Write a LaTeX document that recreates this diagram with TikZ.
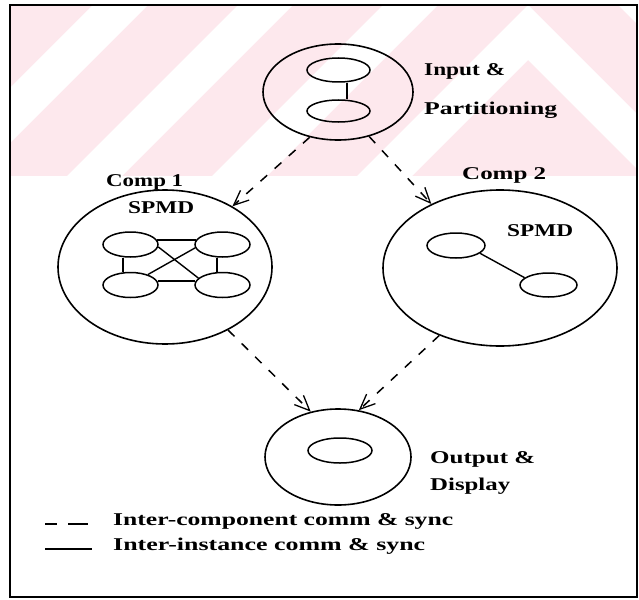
\documentclass[tikz,border=0pt]{standalone}
\usepackage{fontspec}
\usepackage{graphicx}
\setmainfont{Liberation Serif}
\usetikzlibrary{shapes.geometric,arrows.meta}
\definecolor{wmpink}{RGB}{253,232,237}
% stretch a label horizontally to a given width (in pt), keeping its height
\newcommand{\wtxt}[2]{\resizebox{#1pt}{\height}{#2}}

\begin{document}
\begin{tikzpicture}[x=1pt,y=-1pt,
  frame/.style={line width=1.6pt},
  blob/.style={draw, ellipse, line width=1.6pt, inner sep=0pt},
  proc/.style={draw, ellipse, line width=1.5pt, inner sep=0pt},
  lbl/.style={anchor=base west, inner sep=0pt, font=\fontsize{18}{21}\selectfont\bfseries},
  flow/.style={line width=1.5pt, dash pattern=on 9pt off 10pt,
    -{Straight Barb[length=15pt,width=13pt,line width=1.3pt]}},
  link/.style={line width=1.4pt}]

\useasboundingbox (0,0) rectangle (639,599);
\fill[white] (0,0) rectangle (639,599);

% pale background band with white chevron stripes
\begin{scope}
  \clip (10,5) rectangle (637,176);
  \fill[wmpink] (10,5) rectangle (637,176);
  \foreach \yk in {5,-140,-285,-430} {
    \fill[white] (528,\yk) -- ++(800,800) -- ++(0,55) -- (528,{\yk+55})
      -- ++(-800,800) -- ++(0,-55) -- cycle;
  }
\end{scope}

\draw[frame] (10,5) rectangle (637,597);

% Input & Partitioning
\node[blob, minimum width=150pt, minimum height=96pt] (inp) at (338,92) {};
\node[proc, minimum width=63pt, minimum height=24pt] (i1) at (338.5,70) {};
\node[proc, minimum width=63pt, minimum height=22pt] (i2) at (338.5,111) {};
\draw[link] ([xshift=8.5pt]i1.south) -- ([xshift=8.5pt]i2.north);
\node[lbl] (tin1) at (424,76) {\wtxt{81}{Input \&}};
\node[lbl] (tin2) at (424,114) {\wtxt{133}{Partitioning}};

% Comp 1
\node[blob, minimum width=214pt, minimum height=154pt] (c1) at (165,267) {};
\node[proc, minimum width=55pt, minimum height=25pt] (tl) at (130.5,244.5) {};
\node[proc, minimum width=55pt, minimum height=25pt] (tr) at (222.5,244.5) {};
\node[proc, minimum width=55pt, minimum height=25pt] (bl) at (130.5,285) {};
\node[proc, minimum width=55pt, minimum height=25pt] (br) at (222.5,285) {};
\draw[link] (tl.10) -- (tr.170);
\draw[link] (bl.8) -- (br.172);
\draw[link] ([xshift=-7.5pt]tl.south) -- ([xshift=-7.5pt]bl.north);
\draw[link] ([xshift=-5.5pt]tr.south) -- ([xshift=-5.5pt]br.north);
\draw[link] (tl.-5) -- (br.164);
\draw[link] (tr.187) -- (bl.31);
\node[lbl] (tc1) at (106,186) {\wtxt{77}{Comp 1}};
\node[lbl] (ts1) at (128,213) {\wtxt{66}{SPMD}};

% Comp 2
\node[blob, minimum width=234pt, minimum height=156pt] (c2) at (500,268) {};
\node[proc, minimum width=58pt, minimum height=25pt] (l2) at (456,245.5) {};
\node[proc, minimum width=57pt, minimum height=24pt] (r2) at (548.5,285) {};
\draw[link] (l2.-18) -- (r2.163);
\node[lbl] (tc2) at (462,179) {\wtxt{84}{Comp 2}};
\node[lbl] (ts2) at (507,236) {\wtxt{66}{SPMD}};

% Output & Display
\node[blob, minimum width=146pt, minimum height=96pt] (out) at (338,457) {};
\node[proc, minimum width=64pt, minimum height=25pt] (o1) at (340,450.5) {};
\node[lbl] (tout1) at (430,463) {\wtxt{105}{Output \&}};
\node[lbl] (tout2) at (430,490) {\wtxt{80}{Display}};

% inter-component flows
\draw[flow] (inp.238) -- (c1.42);
\draw[flow] (inp.305) -- (c2.137);
\draw[flow] (c1.315) -- (out.121);
\draw[flow] (c2.228) -- (out.66);

% legend
\coordinate (ld1) at (45,524);
\coordinate (ld2) at (88,524);
\coordinate (ls1) at (45,549);
\coordinate (ls2) at (92,549);
\draw[line width=1.5pt, dash pattern=on 12pt off 11pt on 20pt off 5pt] (ld1) -- (ld2);
\draw[line width=1.5pt] (ls1) -- (ls2);
\node[lbl] (leg1) at (113,525) {\wtxt{340}{Inter-component comm \& sync}};
\node[lbl] (leg2) at (113,550) {\wtxt{312}{Inter-instance comm \& sync}};
\end{tikzpicture}
\end{document}
